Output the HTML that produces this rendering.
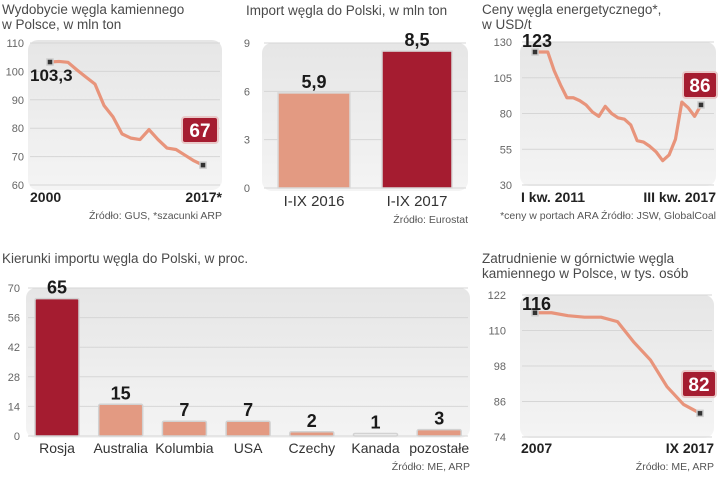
<!DOCTYPE html>
<html><head><meta charset="utf-8">
<style>
html,body{margin:0;padding:0;background:#fff;}
svg{display:block;font-family:"Liberation Sans",sans-serif;}
.t{font-size:13.5px;fill:#4a4a4a;}
.tk{font-size:11px;fill:#666;}
.xl{font-size:14px;fill:#222;font-weight:bold;}
.xc{font-size:14px;fill:#333;}
.src{font-size:10.5px;fill:#555;}
.val{font-size:17px;font-weight:bold;fill:#1a1a1a;}
</style></head>
<body>
<svg id="root" width="720" height="477" viewBox="0 0 720 477" xmlns="http://www.w3.org/2000/svg">
<defs>
<linearGradient id="pg" x1="0" y1="0" x2="0" y2="1"><stop offset="0" stop-color="#e6e6e6"/><stop offset="1" stop-color="#f4f4f4"/></linearGradient>
</defs>
</svg>
<script>
// ---- data ----
const prodYears = ["2000","2017*"];
const prodValues = [103.3,103.5,103.2,100.5,98,95.5,88,84,78,76.5,76,79.5,76,73,72.5,70.5,68.5,67];
const prodTicks = [60,70,80,90,100,110];

const impCats = ["I-IX 2016","I-IX 2017"];
const impValues = [5.9,8.5];
const impLabels = ["5,9","8,5"];
const impTicks = [0,3,6,9];

const priceValues = [123,123,123,110,100,91,91,89,86,81,78,85,80,77,76,72,61,60,57,53,47,51,62,88,84,78,86];
const priceTicks = [30,55,80,105,130];

const dirCats = ["Rosja","Australia","Kolumbia","USA","Czechy","Kanada","pozostałe"];
const dirValues = [65,15,7,7,2,1,3];
const dirTicks = [0,14,28,42,56,70];

const empValues = [116,116,115,114.5,114.5,113,106,100,91,85,82];
const empTicks = [74,86,98,110,122];

const svg = document.getElementById('root');
const NS = "http://www.w3.org/2000/svg";
function el(tag, attrs, parent){const e=document.createElementNS(NS,tag);for(const k in attrs)e.setAttribute(k,attrs[k]);(parent||svg).appendChild(e);return e;}
function txt(s,x,y,cls,anchor){const e=el('text',{x:x,y:y,class:cls,'text-anchor':anchor||'start'});e.textContent=s;return e;}
const LIGHT="#e39a82", DARK="#a51c30", LINE="#e8947b";

function panel(x,y,w,h){const p=el('rect',{x:x,y:y,width:w,height:h,rx:10,fill:'url(#pg)'});

}
function grid(ticks,ys,x0,x1,tx){ticks.forEach(v=>{const y=ys(v);
const g=el('line',{x1:x0,x2:x1,y1:y,y2:y,stroke:'#d6d6d6','stroke-width':1});


const t=txt(String(v),tx,y+4,'tk','end');

});}
function callout(s,cx,cy,w){const r=el('rect',{x:cx-w/2,y:cy-13,width:w,height:26,rx:3,fill:DARK,stroke:'#e9c8c8','stroke-width':2});


const t=txt(s,cx,cy+7,'val','middle');t.setAttribute('fill','#fff');t.style.fill='#fff';t.style.fontSize='19px';

}
function dot(x,y){const d=el('rect',{x:x-3,y:y-3,width:6,height:6,fill:'#333',stroke:'#ccc','stroke-width':1.5});

}
function line(vals,xs,ys){const pts=vals.map((v,i)=>xs(i)+','+ys(v)).join(' ');
const p=el('polyline',{points:pts,fill:'none',stroke:LINE,'stroke-width':3.2,'stroke-linejoin':'round','stroke-linecap':'round'});

}
function title(lines,x,y){lines.forEach((s,i)=>{const t=txt(s,x,y+i*15,'t');

});}
function src(s,x,y,anchor){const t=txt(s,x,y,'src',anchor||'end');

}

// ---- Chart 1: production ----
{
title(["Wydobycie węgla kamiennego","w Polsce, w mln ton"],2,14);
panel(28,40,194,150);
const ys=v=>43+(110-v)*(142/50);
const xs=i=>50+i*(153/(prodValues.length-1));
grid(prodTicks,ys,30,220,24);
line(prodValues,xs,ys);
dot(xs(0),ys(prodValues[0]));dot(xs(prodValues.length-1),ys(prodValues[prodValues.length-1]));
const v1=txt("103,3",30,ys(prodValues[0])+19,'val');


callout("67",200,130,36);
const a=txt(prodYears[0],30,202,'xl');
const b=txt(prodYears[1],222,202,'xl','end');
src("Źródło: GUS, *szacunki ARP",222,219);
}

// ---- Chart 2: import ----
{
title(["Import węgla do Polski, w mln ton"],246,15);
panel(262,43,206,148);
const ys=v=>188-v*(145/9);
grid(impTicks,ys,264,466,250);
const bx=[278,382], bw=[72,70];
impValues.forEach((v,i)=>{
const r=el('rect',{x:bx[i],y:ys(v),width:bw[i],height:ys(0)-ys(v),fill:i?DARK:LIGHT,stroke:'#d9d9d9','stroke-width':1.5});


const t=txt(impLabels[i],bx[i]+bw[i]/2,ys(v)-5,'val','middle');t.style.fontSize='18px';


const c=txt(impCats[i],bx[i]+bw[i]/2,206,'xc','middle');c.style.fontSize='15px';


});
src("Źródło: Eurostat",468,223);
}

// ---- Chart 3: prices ----
{
title(["Ceny węgla energetycznego*,","w USD/t"],482,14);
panel(520,42,196,144);
const ys=v=>42+(130-v)*(143/100);
const xs=i=>535+i*(166/(priceValues.length-1));
grid(priceTicks,ys,522,714,512);
line(priceValues,xs,ys);
dot(xs(0),ys(priceValues[0]));dot(xs(priceValues.length-1),ys(priceValues[priceValues.length-1]));
const v1=txt("123",522,47,'val');v1.style.fontSize='18px';


callout("86",700,85,34);
const a=txt("I kw. 2011",521,202,'xl');
const b=txt("III kw. 2017",716,202,'xl','end');
src("*ceny w portach ARA   Źródło: JSW, GlobalCoal",716,219);
}

// ---- Chart 4: import directions ----
{
title(["Kierunki importu węgla do Polski, w proc."],2,263);
panel(26,288,444,150);
const ys=v=>436-v*(148/70);
grid(dirTicks,ys,28,468,20);
const xc=i=>57+i*63.7;
dirValues.forEach((v,i)=>{
const h=Math.max(ys(0)-ys(v),2.5);
const r=el('rect',{x:xc(i)-22,y:ys(0)-h,width:44,height:h,rx:1.5,fill:i===0?DARK:(i===5?'#f3f3f3':LIGHT),stroke:'#d2d2d2','stroke-width':1.5});


const t=txt(String(v),xc(i),ys(0)-h-5,'val','middle');t.style.fontSize='18px';


const c=txt(dirCats[i],xc(i),453,'xc','middle');


});
src("Źródło: ME, ARP",470,470);
}

// ---- Chart 5: employment ----
{
title(["Zatrudnienie w górnictwie węgla","kamiennego w Polsce, w tys. osób"],482,263);
panel(520,295,194,143);
const ys=v=>295+(122-v)*(142/48);
const xs=i=>535+i*(165/(empValues.length-1));
grid(empTicks,ys,522,712,506);
line(empValues,xs,ys);
dot(xs(0),ys(empValues[0]));dot(xs(empValues.length-1),ys(empValues[empValues.length-1]));
const v1=txt("116",522,310,'val');v1.style.fontSize='18px';


callout("82",699,384,34);
const a=txt("2007",521,453,'xl');
const b=txt("IX 2017",714,453,'xl','end');
src("Źródło: ME, ARP",714,470);
}
</script>
</body></html>
